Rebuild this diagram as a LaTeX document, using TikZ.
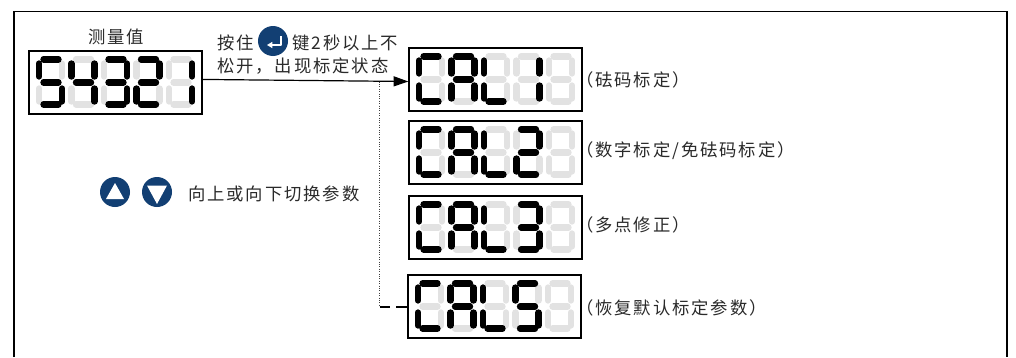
\documentclass[tikz,border=0pt]{standalone}
\usetikzlibrary{arrows.meta}
\usepackage{fontspec}
\setmainfont{Noto Sans CJK SC}[LetterSpace=11]
\definecolor{keyblue}{HTML}{123F73}
\definecolor{segoff}{HTML}{E2E2E2}
\definecolor{txt}{HTML}{2A2A2A}
\tikzset{
  dispbox/.style={draw=black,line width=1.3pt,minimum width=129.5pt,minimum height=47.3pt,inner sep=0pt},
  seg/.style={line width=4.7pt,line cap=round},
  lbl/.style={inner sep=0pt,anchor=west,text=txt,font=\fontsize{13}{16}\selectfont},
  keydisc/.style={circle,fill=keyblue,minimum size=22.5pt,inner sep=0pt},
  conn/.style={line width=0.9pt,black}
}
\newcommand{\segS}[1]{}
\newcommand{\segSa}[1]{\draw[seg,#1] (14.5,8.5)--(29.5,8.5);}
\newcommand{\segSb}[1]{\draw[seg,#1] (33,12.5)--(33,25.5);}
\newcommand{\segSc}[1]{\draw[seg,#1] (33,37.5)--(33,50.5);}
\newcommand{\segSd}[1]{\draw[seg,#1] (14.5,53.5)--(29.5,53.5);}
\newcommand{\segSe}[1]{\draw[seg,#1] (10,37.5)--(10,50.5);}
\newcommand{\segSf}[1]{\draw[seg,#1] (10,12.5)--(10,25.5);}
\newcommand{\segSg}[1]{\draw[seg,#1] (14.5,31.5)--(29.5,31.5);}
\newcommand{\dgt}[4]{% box-x, box-y, digit index, on-segments
  \begin{scope}[shift={({#1+32.5*#3},#2)}]
    \foreach \s in {a,b,c,d,e,f,g}{\csname segS\s\endcsname{segoff}}
    \foreach \s in {#4}{\csname segS\s\endcsname{black}}
  \end{scope}}
\newcommand{\dsp}[7]{% name, x, y, four digits
  \node[dispbox] (#1) at ({#2+86.5},{#3+31.5}) {};
  \dgt{#2}{#3}{0}{#4}\dgt{#2}{#3}{1}{#5}\dgt{#2}{#3}{2}{#6}\dgt{#2}{#3}{3}{#7}}
\begin{document}
\begin{tikzpicture}[x=0.75pt,y=-0.75pt]
\useasboundingbox (0,0) rectangle (1016,357);
\fill[white] (0,0) rectangle (1016,357);
\draw[line width=1.4pt,black] (14,357)--(14,11.5)--(1007,11.5)--(1007,357);
% displays
\dsp{main}{29}{51}{a,f,g,c,d}{f,b,g,c}{a,b,g,c,d}{a,b,g,e,d}
\dgt{29}{51}{4}{b,c}
\dsp{calA}{409}{48}{a,f,e,d}{a,b,c,e,f,g}{f,e,d}{b,c}
\dgt{409}{48}{4}{}
\dsp{calB}{409}{121}{a,f,e,d}{a,b,c,e,f,g}{f,e,d}{a,b,g,e,d}
\dgt{409}{121}{4}{}
\dsp{calC}{409}{196}{a,f,e,d}{a,b,c,e,f,g}{f,e,d}{a,b,g,c,d}
\dgt{409}{196}{4}{}
\dsp{calE}{408}{275}{a,f,e,d}{a,b,c,e,f,g}{f,e,d}{a,f,g,c,d}
\dgt{408}{275}{4}{}
% connectors
\coordinate (branch) at (379.5,81.5);
\coordinate (corner) at (379.5,307);
\draw[conn,-{Triangle[length=11pt,width=7.5pt]}] ([yshift=2.3pt]main.east) -- (calA.west |- branch);
\draw[line width=0.8pt,densely dotted,black!75] (branch) -- (corner);
\draw[conn,dash pattern=on 8pt off 4.5pt on 7.5pt off 0pt] (corner) -- (calE.west |- corner);
% labels
\node[lbl] (tmain) at (88,37) {测量值};
\node[lbl] (tpressA) at (217,43) {按住};
\node[lbl] (tpressB) at (292,43) {键2秒以上不};
\node[lbl] (tpressC) at (217,66) {松开，出现标定状态};
\node[lbl] (tswitch) at (188,194) {向上或向下切换参数};
\node[lbl] (tA) at (576,80) {（砝码标定）};
\node[lbl] (tB) at (576,151) {（数字标定/免砝码标定）};
\node[lbl] (tC) at (576,225) {（多点修正）};
\node[lbl] (tE) at (576,308) {（恢复默认标定参数）};
% keys
\node[keydisc] (enterkey) at (273,41) {};
\draw[white,line width=0.9pt,line join=round,-{Triangle[length=4pt,width=4.5pt]}] (281,36)--(281,45)--(267,45);
\node[keydisc] (upkey) at (115,192) {};
\fill[white] (115,183)--(124,199)--(106,199)--cycle;
\node[keydisc] (downkey) at (157,192) {};
\fill[white] (147,185.5)--(167,185.5)--(157,204)--cycle;
\end{tikzpicture}
\end{document}
